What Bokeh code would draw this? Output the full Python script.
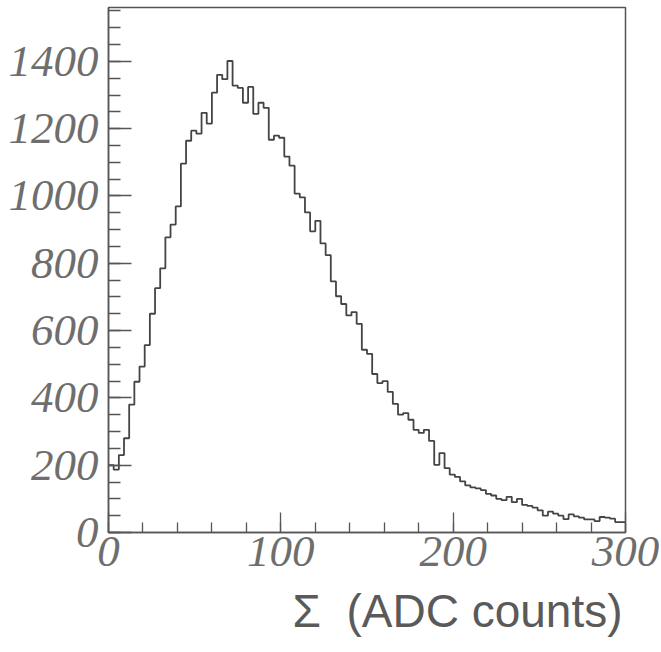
from bokeh.plotting import figure
from bokeh.models import FixedTicker, Range1d, Title, ColumnDataSource
from bokeh.embed import file_html
from bokeh.resources import INLINE

# ---- data ----
bin_start = 0
bin_width = 3
counts = [200, 187, 230, 280, 380, 448, 493, 557, 650, 726,
          785, 877, 915, 969, 1096, 1164, 1194, 1185, 1247, 1215,
          1307, 1360, 1347, 1401, 1328, 1321, 1277, 1324, 1244, 1277,
          1262, 1167, 1179, 1173, 1117, 1090, 1007, 996, 951, 895,
          926, 859, 824, 746, 702, 679, 645, 655, 620, 543,
          531, 471, 444, 450, 418, 382, 350, 355, 335, 305,
          296, 305, 272, 201, 236, 191, 172, 165, 152, 140,
          134, 131, 126, 115, 110, 100, 96, 106, 90, 100,
          82, 79, 74, 66, 50, 62, 56, 50, 40, 54,
          48, 44, 39, 39, 34, 46, 44, 41, 31, 31]
x_major = [0, 100, 200, 300]
x_minor = list(range(0, 301, 20))
y_major = [0, 200, 400, 600, 800, 1000, 1200, 1400]
y_minor = list(range(0, 1551, 50))
x_title = "\u03a3\u00a0\u00a0(ADC counts)"

edges = [bin_start + bin_width * i for i in range(len(counts) + 1)]
src = ColumnDataSource(dict(x=edges, y=counts + [counts[-1]]))

p = figure(width=661, height=652, output_backend="svg", toolbar_location=None,
           x_range=Range1d(0, 300), y_range=Range1d(0, 1560),
           min_border_left=108, min_border_right=36, min_border_top=7,
           min_border_bottom=120)
p.background_fill_color = "white"
p.border_fill_color = "white"
p.grid.visible = False
p.outline_line_color = "#555555"
p.outline_line_width = 1.5

p.step("x", "y", source=src, mode="after", line_color="#444444", line_width=1.8)

gray = "#6e6e6e"
for ax in (p.xaxis[0], p.yaxis[0]):
    ax.axis_line_color = "#555555"
    ax.axis_line_width = 1.5
    ax.major_tick_line_color = "#555555"
    ax.minor_tick_line_color = "#555555"
    ax.major_tick_line_width = 1.3
    ax.minor_tick_line_width = 1.3
    ax.major_tick_out = 0
    ax.minor_tick_out = 0
    ax.major_label_text_font = "Liberation Serif"
    ax.major_label_text_font_style = "italic"
    ax.major_label_text_font_size = "45px"
    ax.major_label_text_color = gray

p.xaxis[0].ticker = FixedTicker(ticks=x_major, minor_ticks=x_minor)
p.yaxis[0].ticker = FixedTicker(ticks=y_major, minor_ticks=y_minor)
p.xaxis[0].major_tick_in = 20
p.xaxis[0].minor_tick_in = 10
p.yaxis[0].major_tick_in = 23
p.yaxis[0].minor_tick_in = 12
p.xaxis[0].major_label_standoff = 4
p.yaxis[0].major_label_standoff = 10

t = Title(text=x_title, align="right", text_font="Liberation Sans",
          text_font_size="46px", text_font_style="normal", text_color="#5a5a5a",
          offset=3, standoff=29)
p.add_layout(t, "below")

open("out.html", "w").write(file_html(p, INLINE))
